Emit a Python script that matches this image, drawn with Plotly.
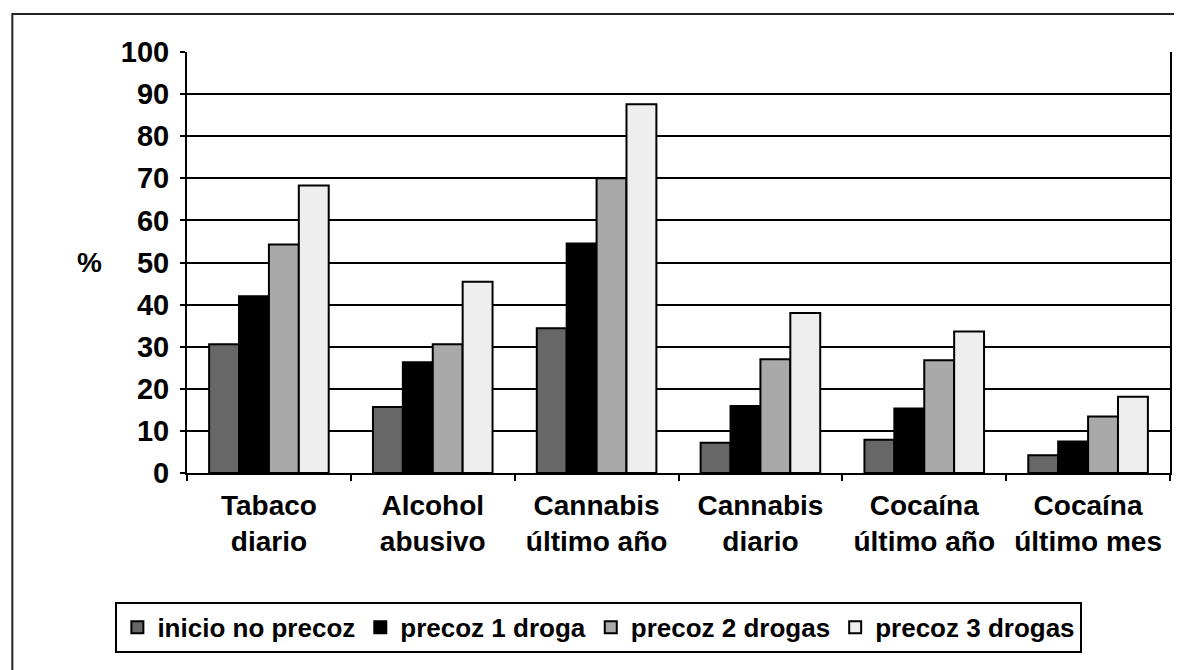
import plotly.graph_objects as go

categories = ["Tabaco<br>diario", "Alcohol<br>abusivo", "Cannabis<br>último año",
              "Cannabis<br>diario", "Cocaína<br>último año", "Cocaína<br>último mes"]
series_names = ["inicio no precoz", "precoz 1 droga", "precoz 2 drogas", "precoz 3 drogas"]
inicio_no_precoz = [30.6, 15.7, 34.4, 7.2, 7.9, 4.2]
precoz_1_droga = [42.0, 26.3, 54.5, 15.9, 15.3, 7.5]
precoz_2_drogas = [54.3, 30.6, 70.0, 27.0, 26.8, 13.4]
precoz_3_drogas = [68.3, 45.4, 87.6, 38.0, 33.6, 18.1]
y_ticks = [0, 10, 20, 30, 40, 50, 60, 70, 80, 90, 100]

series_values = [inicio_no_precoz, precoz_1_droga, precoz_2_drogas, precoz_3_drogas]
colors = ["#676767", "#000000", "#a9a9a9", "#eeeeee"]

FONT = "Liberation Sans, Arial, sans-serif"

fig = go.Figure()
for name, vals, col in zip(series_names, series_values, colors):
    fig.add_trace(go.Bar(
        x=categories, y=vals, name=name,
        marker=dict(color=col, line=dict(color="black", width=2)),
    ))

fig.update_layout(
    width=1174, height=662,
    margin=dict(l=179, r=10, t=44, b=197),
    paper_bgcolor="white", plot_bgcolor="white",
    barmode="group", bargap=0.27, bargroupgap=0,
    font=dict(family=FONT, color="black"),
    showlegend=True,
    legend=dict(
        orientation="h", x=0.419, xanchor="center", y=-0.306, yanchor="top",
        font=dict(family=FONT, size=26, color="black", weight="bold"),
        bordercolor="black", borderwidth=2, bgcolor="white",
        itemwidth=30,
    ),
)

fig.update_xaxes(
    showline=True, linecolor="black", linewidth=2,
    ticks="outside", tickson="boundaries", ticklen=6, tickwidth=2, tickcolor="black",
    tickfont=dict(family=FONT, size=28, color="black", weight="bold"),
    ticklabelstandoff=6,
    showgrid=False,
)
fig.update_yaxes(
    range=[0, 100], tickvals=y_ticks,
    showline=True, linecolor="black", linewidth=2, mirror=True,
    ticks="outside", ticklen=5, tickwidth=2, tickcolor="black",
    tickfont=dict(family=FONT, size=29, color="black", weight="bold"),
    ticklabelstandoff=5,
    showgrid=True, gridcolor="black", gridwidth=2,
    zeroline=False,
)

fig.add_annotation(
    text="%", xref="paper", yref="paper", x=-0.0995, y=0.501, xanchor="center", yanchor="middle",
    showarrow=False, font=dict(family=FONT, size=28, color="black", weight="bold"),
)

fig.add_shape(
    type="rect", xref="paper", yref="paper",
    x0=-0.1777, x1=1.05, y0=-0.6, y1=1.0903,
    line=dict(color="#222222", width=2), fillcolor="rgba(0,0,0,0)", layer="below",
)

fig.write_html("out.html")
